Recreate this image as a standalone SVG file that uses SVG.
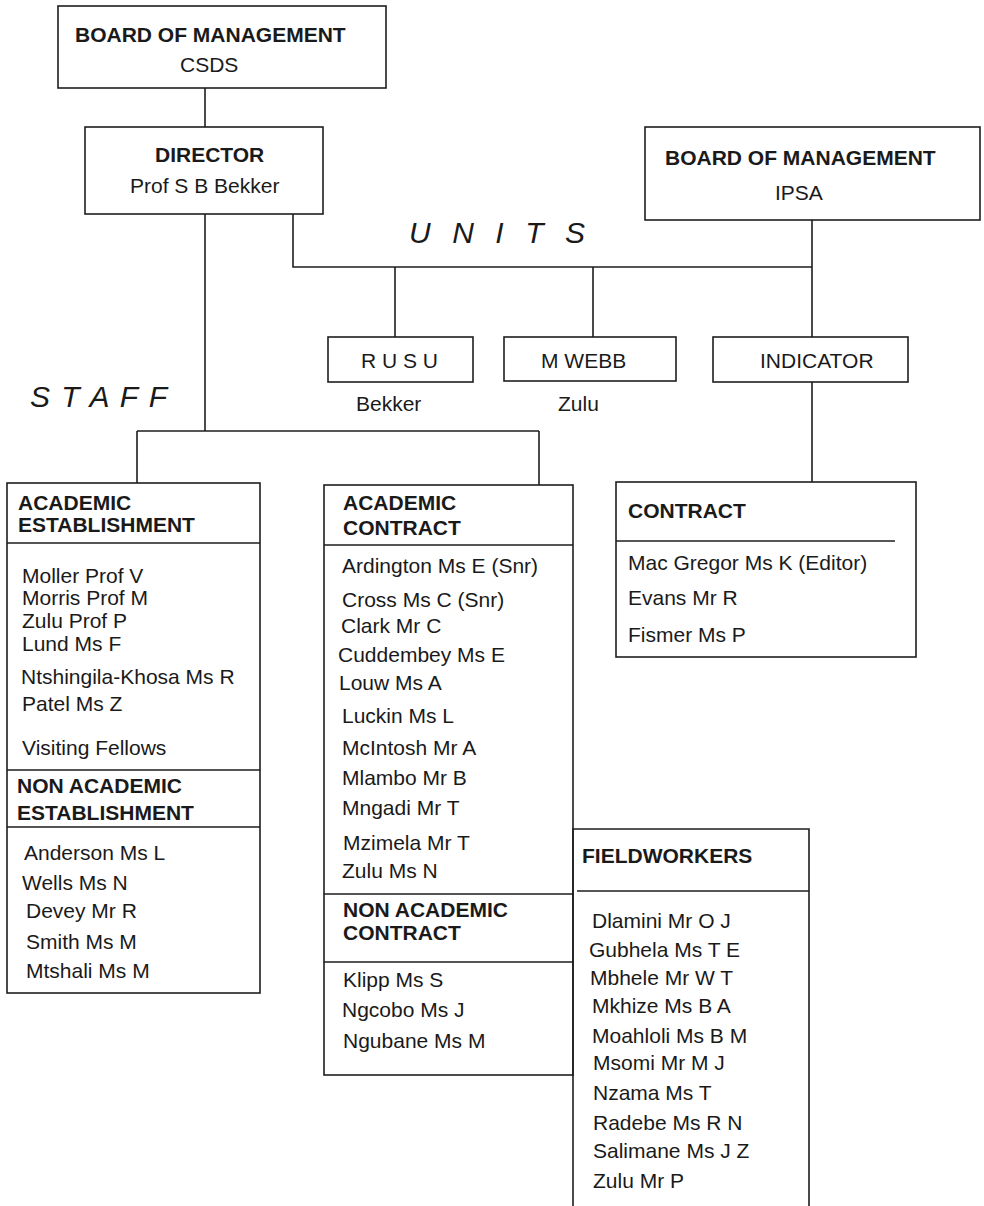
<svg xmlns="http://www.w3.org/2000/svg" width="984" height="1206" viewBox="0 0 984 1206">
<style>
.bx{fill:none;stroke:#1e1e1e;stroke-width:1.6}
.ln{stroke:#1e1e1e;stroke-width:1.6;fill:none}
text{font-family:"Liberation Sans",Arial,sans-serif;font-size:21px;fill:#1a1a1a}
.b{font-weight:bold}
.it{font-style:italic;font-size:30px}
</style>
<rect width="984" height="1206" fill="#fff"/>
<g id="connectors">
<path class="ln" d="M205,88V127"/>
<path class="ln" d="M205,214V431M137,431H539M137,431V483M539,431V485"/>
<path class="ln" d="M293,214V267H812M812,220V337M395,267V337M593,267V337"/>
<path class="ln" d="M812,382V482"/>
</g>
<g id="board-csds">
<rect class="bx" x="58" y="6" width="328" height="82"/>
<text class="b" x="75" y="42">BOARD OF MANAGEMENT</text>
<text x="180" y="72">CSDS</text>
</g>
<g id="director">
<rect class="bx" x="85" y="127" width="238" height="87"/>
<text class="b" x="155" y="162">DIRECTOR</text>
<text x="130" y="193">Prof S B Bekker</text>
</g>
<g id="board-ipsa">
<rect class="bx" x="645" y="127" width="335" height="93"/>
<text class="b" x="665" y="165">BOARD OF MANAGEMENT</text>
<text x="775" y="200">IPSA</text>
</g>
<g id="units-label">
<text class="it" x="409" y="243" textLength="176" lengthAdjust="spacing">U N I T S</text>
</g>
<g id="staff-label">
<text class="it" x="30" y="407" textLength="137" lengthAdjust="spacing">S T A F F</text>
</g>
<g id="rusu">
<rect class="bx" x="328" y="337" width="145" height="45"/>
<text x="361" y="368">R U S U</text>
<text x="356" y="411">Bekker</text>
</g>
<g id="mwebb">
<rect class="bx" x="504" y="337" width="172" height="44"/>
<text x="541" y="368">M WEBB</text>
<text x="558" y="411">Zulu</text>
</g>
<g id="indicator">
<rect class="bx" x="713" y="337" width="195" height="45"/>
<text x="760" y="368">INDICATOR</text>
</g>
<g id="contract">
<rect class="bx" x="616" y="482" width="300" height="175"/>
<path class="ln" d="M616,541H895"/>
<text class="b" x="628" y="518">CONTRACT</text>
<text x="628" y="570">Mac Gregor Ms K (Editor)</text>
<text x="628" y="605">Evans Mr R</text>
<text x="628" y="642">Fismer Ms P</text>
</g>
<g id="academic-establishment">
<rect class="bx" x="7" y="483" width="253" height="510"/>
<path class="ln" d="M7,543H260M7,770H260M7,827H260"/>
<text class="b" x="18" y="510">ACADEMIC</text>
<text class="b" x="18" y="532">ESTABLISHMENT</text>
<text x="22" y="583">Moller Prof V</text>
<text x="22" y="605">Morris Prof M</text>
<text x="22" y="628">Zulu Prof P</text>
<text x="22" y="651">Lund Ms F</text>
<text x="21" y="684">Ntshingila-Khosa Ms R</text>
<text x="22" y="711">Patel Ms Z</text>
<text x="22" y="755">Visiting Fellows</text>
</g>
<g id="non-academic-establishment">
<text class="b" x="17" y="793">NON ACADEMIC</text>
<text class="b" x="17" y="820">ESTABLISHMENT</text>
<text x="24" y="860">Anderson Ms L</text>
<text x="22" y="890">Wells Ms N</text>
<text x="26" y="918">Devey Mr R</text>
<text x="26" y="949">Smith Ms M</text>
<text x="26" y="978">Mtshali Ms M</text>
</g>
<g id="academic-contract">
<rect class="bx" x="324" y="485" width="249" height="590"/>
<path class="ln" d="M324,545H573M324,894H573M324,962H573"/>
<text class="b" x="343" y="510">ACADEMIC</text>
<text class="b" x="343" y="535">CONTRACT</text>
<text x="342" y="573">Ardington Ms E (Snr)</text>
<text x="342" y="607">Cross Ms C (Snr)</text>
<text x="341" y="633">Clark Mr C</text>
<text x="338" y="662">Cuddembey Ms E</text>
<text x="339" y="690">Louw Ms A</text>
<text x="342" y="723">Luckin Ms L</text>
<text x="342" y="755">McIntosh Mr A</text>
<text x="342" y="785">Mlambo Mr B</text>
<text x="342" y="815">Mngadi Mr T</text>
<text x="343" y="850">Mzimela Mr T</text>
<text x="342" y="878">Zulu Ms N</text>
</g>
<g id="non-academic-contract">
<text class="b" x="343" y="917">NON ACADEMIC</text>
<text class="b" x="343" y="940">CONTRACT</text>
<text x="343" y="987">Klipp Ms S</text>
<text x="342" y="1017">Ngcobo Ms J</text>
<text x="343" y="1048">Ngubane Ms M</text>
</g>
<g id="fieldworkers">
<path class="bx" d="M573,1206V829H809V1206"/>
<path class="ln" d="M577,891H809"/>
<text class="b" x="582" y="863">FIELDWORKERS</text>
<text x="592" y="928">Dlamini Mr O J</text>
<text x="589" y="957">Gubhela Ms T E</text>
<text x="590" y="985">Mbhele Mr W T</text>
<text x="592" y="1013">Mkhize Ms B A</text>
<text x="592" y="1043">Moahloli Ms B M</text>
<text x="593" y="1070">Msomi Mr M J</text>
<text x="593" y="1100">Nzama Ms T</text>
<text x="593" y="1130">Radebe Ms R N</text>
<text x="593" y="1158">Salimane Ms J Z</text>
<text x="593" y="1188">Zulu Mr P</text>
</g>
</svg>
